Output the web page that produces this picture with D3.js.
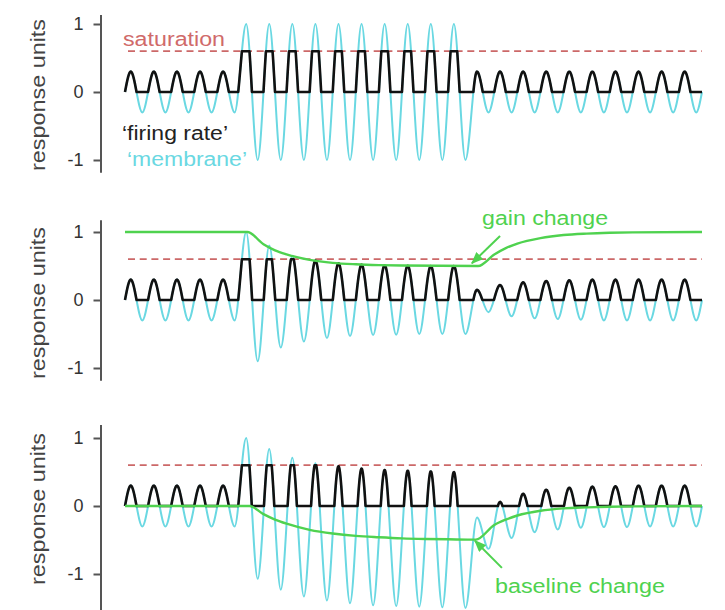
<!DOCTYPE html>
<html>
<head>
<meta charset="utf-8">
<script src="https://cdn.jsdelivr.net/npm/d3@7"></script>
<style>
  body { margin: 0; background: #fff; }
  svg { display: block; font-family: "Liberation Sans", Arial, sans-serif; }
</style>
</head>
<body>
<svg id="chart" width="725" height="610"></svg>
<script>
// time runs in oscillation cycles, 25 cycles in every panel
const nCycles = 25
const tickValues = [-1, 0, 1]
const saturation = 0.6

// membrane extrema: peak, trough for each cycle
const membrane1 = [
  0.3, -0.3, 0.3, -0.3, 0.3, -0.3, 0.3, -0.3, 0.3, -0.3,
  1, -1, 1, -1, 1, -1, 1, -1, 1, -1,
  1, -1, 1, -1, 1, -1, 1, -1, 1, -1,
  0.3, -0.3, 0.3, -0.3, 0.3, -0.3, 0.3, -0.3, 0.3, -0.3,
  0.3, -0.3, 0.3, -0.3, 0.3, -0.3, 0.3, -0.3, 0.3, -0.3
]
const membrane2 = [
  0.3, -0.3, 0.3, -0.3, 0.3, -0.3, 0.3, -0.3, 0.3, -0.3,
  1, -0.9, 0.8, -0.7, 0.65, -0.61, 0.58, -0.56, 0.54, -0.53,
  0.52, -0.515, 0.51, -0.51, 0.505, -0.5, 0.5, -0.5, 0.5, -0.5,
  0.15, -0.18, 0.22, -0.24, 0.26, -0.27, 0.28, -0.28, 0.29, -0.29,
  0.3, -0.3, 0.3, -0.3, 0.3, -0.3, 0.3, -0.3, 0.3, -0.3
]
const membrane3 = [
  0.3, -0.3, 0.3, -0.3, 0.3, -0.3, 0.3, -0.3, 0.3, -0.3,
  1, -1.07, 0.84, -1.23, 0.71, -1.33, 0.63, -1.39, 0.585, -1.43,
  0.55, -1.46, 0.53, -1.47, 0.52, -1.48, 0.51, -1.49, 0.5, -1.5,
  -0.17, -0.63, 0.06, -0.47, 0.18, -0.385, 0.24, -0.345, 0.27, -0.32,
  0.285, -0.31, 0.29, -0.31, 0.3, -0.3, 0.3, -0.3, 0.3, -0.3
]

// gain change (panel 2) and baseline change (panel 3)
const gainTimes = [0, 5.3, 6, 6.5, 7, 8, 9, 10, 11, 12, 15.3, 16, 16.5, 17, 18, 19, 20, 21, 22, 25]
const gainValues = [1, 1, 0.82, 0.73, 0.67, 0.59, 0.546, 0.525, 0.513, 0.507, 0.5, 0.67, 0.764, 0.83, 0.91, 0.955, 0.976, 0.988, 0.994, 1]
const baseTimes = [0, 5.4, 6, 6.5, 7, 8, 9, 10, 11, 12, 13, 14, 15.2, 16, 16.5, 17, 18, 19, 20, 21, 22, 25]
const baseValues = [0, 0, -0.12, -0.2, -0.26, -0.35, -0.405, -0.44, -0.46, -0.476, -0.485, -0.49, -0.495, -0.28, -0.2, -0.14, -0.07, -0.035, -0.02, -0.01, -0.005, 0]

const colors = { membrane: '#6ad8e2', firing: '#111', green: '#4fd24f', sat: '#cc6868', axis: '#555', text: '#333' }

let svg = d3.select('#chart')

let defs = svg.append('defs')
defs.append('marker')
  .attr('id', 'arrow')
  .attr('markerUnits', 'userSpaceOnUse')
  .attr('markerWidth', 12).attr('markerHeight', 10)
  .attr('refX', 11).attr('refY', 5)
  .attr('orient', 'auto')
  .append('path').attr('d', 'M0,0L12,5L0,10Z').attr('fill', colors.green)

let x = d3.scaleLinear([0, nCycles], [125, 702])

let panels = [
  { zero: 92, membrane: membrane1, axisDomain: [-1.18, 1.14] },
  { zero: 300, membrane: membrane2, axisDomain: [-1.18, 1.18], greenT: gainTimes, greenV: gainValues },
  { zero: 506, membrane: membrane3, axisDomain: [-1.65, 1.2], greenT: baseTimes, greenV: baseValues }
]

panels.forEach((p, i) => {
  let y = d3.scaleLinear([-1, 1], [p.zero + 68, p.zero - 68])
  let g = svg.append('g')

  // Axis
  let axisScale = d3.scaleLinear(p.axisDomain, p.axisDomain.map(y))
  let ax = g.append('g').attr('transform', 'translate(100.5, 0)')
    .call(d3.axisLeft(axisScale).tickValues(tickValues).tickSize(7).tickSizeOuter(0).tickPadding(10)
      .tickFormat(d => String(d)))
  ax.select('.domain').attr('stroke', colors.axis).attr('stroke-width', 2)
  ax.selectAll('.tick line').attr('stroke', colors.axis).attr('stroke-width', 2)
  ax.selectAll('.tick text').attr('fill', colors.text).attr('font-size', 18)
    .attr('font-family', '"Liberation Sans", Arial, sans-serif')

  g.append('text')
    .attr('transform', `translate(45, ${p.zero + 3}) rotate(-90)`)
    .attr('text-anchor', 'middle')
    .attr('font-size', 20)
    .attr('fill', '#444')
    .attr('textLength', 152).attr('lengthAdjust', 'spacingAndGlyphs')
    .text('response units')

  // Saturation line
  g.append('line')
    .attr('x1', x(0) + 3).attr('x2', x(nCycles))
    .attr('y1', y(saturation)).attr('y2', y(saturation))
    .attr('stroke', colors.sat).attr('stroke-width', 1.8)
    .attr('stroke-dasharray', '7,4.7')

  // Membrane: smooth curve through the extrema
  let pts = [{ t: 0, v: 0 }]
    .concat(p.membrane.map((v, k) => ({ t: k / 2 + 0.25, v })))
    .concat([{ t: nCycles, v: 0 }])
  let line = d3.line().x(d => x(d.t)).y(d => y(d.v)).curve(d3.curveMonotoneX)
  let mem = g.append('path')
    .attr('d', line(pts))
    .attr('fill', 'none').attr('stroke', colors.membrane).attr('stroke-width', 2)

  // Firing rate: membrane rectified and clipped at saturation
  let node = mem.node()
  let len = node.getTotalLength()
  let fr = []
  for (let s = 0; s <= len; s += 0.7) {
    let q = node.getPointAtLength(s)
    fr.push({ t: x.invert(q.x), v: Math.max(0, Math.min(saturation, y.invert(q.y))) })
  }
  let q = node.getPointAtLength(len)
  fr.push({ t: x.invert(q.x), v: Math.max(0, Math.min(saturation, y.invert(q.y))) })
  g.append('path')
    .attr('d', d3.line().x(d => x(d.t)).y(d => y(d.v))(fr))
    .attr('fill', 'none').attr('stroke', colors.firing).attr('stroke-width', 2.6)
    .attr('stroke-linejoin', 'round')

  // Green gain / baseline curve
  if (p.greenT) {
    let gp = p.greenT.map((t, k) => ({ t, v: p.greenV[k] }))
    g.append('path')
      .attr('d', line(gp))
      .attr('fill', 'none').attr('stroke', colors.green).attr('stroke-width', 2.4)
  }

  if (i === 0) {
    g.append('text').attr('x', x(0) - 2).attr('y', y(0.68))
      .attr('font-size', 20).attr('fill', '#d06a6a')
      .attr('textLength', 102).attr('lengthAdjust', 'spacingAndGlyphs')
      .text('saturation')
    g.append('text').attr('x', x(0) - 3).attr('y', y(-0.71))
      .attr('font-size', 20).attr('fill', '#222')
      .attr('textLength', 106).attr('lengthAdjust', 'spacingAndGlyphs')
      .text('\u2018firing rate\u2019')
    g.append('text').attr('x', x(0) + 2).attr('y', y(-1.09))
      .attr('font-size', 20).attr('fill', colors.membrane)
      .attr('textLength', 120).attr('lengthAdjust', 'spacingAndGlyphs')
      .text('\u2018membrane\u2019')
  }
  if (i === 1) {
    g.append('text').attr('x', x(15.47)).attr('y', y(1.1))
      .attr('font-size', 20).attr('fill', colors.green)
      .attr('textLength', 126).attr('lengthAdjust', 'spacingAndGlyphs')
      .text('gain change')
    g.append('line')
      .attr('x1', x(16.25)).attr('y1', y(0.94))
      .attr('x2', x(15.03)).attr('y2', y(0.54))
      .attr('stroke', colors.green).attr('stroke-width', 2)
      .attr('marker-end', 'url(#arrow)')
  }
  if (i === 2) {
    g.append('text').attr('x', x(16.03)).attr('y', y(-1.28))
      .attr('font-size', 20).attr('fill', colors.green)
      .attr('textLength', 170).attr('lengthAdjust', 'spacingAndGlyphs')
      .text('baseline change')
    g.append('line')
      .attr('x1', x(16.33)).attr('y1', y(-0.91))
      .attr('x2', x(15.16)).attr('y2', y(-0.51))
      .attr('stroke', colors.green).attr('stroke-width', 2)
      .attr('marker-end', 'url(#arrow)')
  }
})
</script>
</body>
</html>
